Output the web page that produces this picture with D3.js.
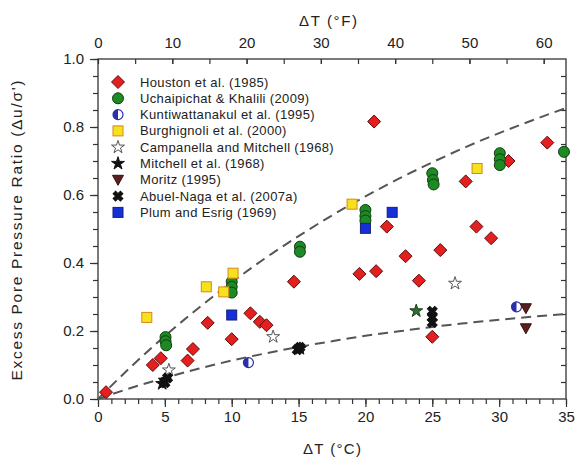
<!DOCTYPE html>
<html>
<head>
<meta charset="utf-8">
<script src="https://cdn.jsdelivr.net/npm/d3@7"></script>
<style>
  body { margin: 0; background: #fff; }
  svg { display: block; }
  text { font-family: "Liberation Sans", Arial, Helvetica, sans-serif; fill: #222; }
</style>
</head>
<body>
<svg id="chart" width="577" height="469"></svg>
<script>
// Measured temperature change (°C) and excess pore pressure ratio, per study
const houston = [
  [0.6, 0.02], [4.1, 0.10], [4.7, 0.12], [6.7, 0.113], [7.1, 0.147], [8.2, 0.224],
  [10.0, 0.176], [11.4, 0.252], [12.1, 0.227], [12.6, 0.217], [14.65, 0.345],
  [19.55, 0.368], [20.65, 0.816], [20.8, 0.376], [21.6, 0.507], [23.0, 0.42],
  [24.0, 0.348], [25.0, 0.183], [25.6, 0.438], [27.5, 0.64], [28.3, 0.507],
  [29.4, 0.473], [30.7, 0.70], [33.6, 0.754]
];
const uchaipichat = [
  [5.05, 0.182], [5.05, 0.17], [5.1, 0.158], [10.0, 0.345], [10.0, 0.33], [10.0, 0.313],
  [15.1, 0.448], [15.1, 0.433], [20.0, 0.556], [20.0, 0.538], [20.0, 0.525],
  [25.0, 0.664], [25.05, 0.644], [25.1, 0.631], [30.05, 0.723], [30.05, 0.705],
  [30.05, 0.688], [34.85, 0.727]
];
const kuntiwattanakul = [[11.25, 0.107], [31.3, 0.271]];
const burghignoli = [[3.65, 0.24], [8.1, 0.33], [9.4, 0.315], [10.1, 0.37], [19.0, 0.573], [28.35, 0.678]];
const campanella = [[5.3, 0.085], [13.1, 0.183], [26.7, 0.34]];
const campanellaDrained = [[23.8, 0.259]];
const mitchell = [[4.8, 0.045], [5.0, 0.055], [15.1, 0.148]];
const moritz = [[32.0, 0.267], [32.0, 0.208]];
const abuelNaga = [[5.0, 0.048], [5.2, 0.062], [14.9, 0.145], [15.1, 0.152], [25.0, 0.258], [25.0, 0.24], [25.0, 0.225]];
const plum = [[10.0, 0.247], [20.0, 0.502], [22.0, 0.549]];

// Upper and lower bounding trend curves
const upperBound = [
  [0, 0], [2.5, 0.096], [5, 0.185], [7.5, 0.267], [10, 0.343], [12.5, 0.414], [15, 0.479],
  [17.5, 0.540], [20, 0.596], [22.5, 0.648], [25, 0.696], [27.5, 0.741], [30, 0.782],
  [32.5, 0.820], [35, 0.856]
];
const lowerBound = [
  [0, 0], [2.5, 0.033], [5, 0.062], [7.5, 0.089], [10, 0.113], [12.5, 0.134], [15, 0.153],
  [17.5, 0.170], [20, 0.186], [22.5, 0.199], [25, 0.212], [27.5, 0.223], [30, 0.233],
  [32.5, 0.242], [35, 0.250]
];

// Axis ticks
const celsiusTicks = [0, 5, 10, 15, 20, 25, 30, 35];
const fahrenheitTicks = [0, 10, 20, 30, 40, 50, 60];
const ratioTicks = [0.0, 0.2, 0.4, 0.6, 0.8, 1.0];

const series = [
  { name: "Houston et al. (1985)", data: houston, shape: "diamond", fill: "#e3201f", stroke: "#5e0c0c" },
  { name: "Uchaipichat & Khalili (2009)", data: uchaipichat, shape: "circle", fill: "#1e8a24", stroke: "#0f3d12" },
  { name: "Kuntiwattanakul et al. (1995)", data: kuntiwattanakul, shape: "half", fill: "#2b2fa8", stroke: "#2b2fa8" },
  { name: "Burghignoli et al. (2000)", data: burghignoli, shape: "square", fill: "#f5e21c", stroke: "#d8861a" },
  { name: "Campanella and Mitchell (1968)", data: campanella, shape: "star", fill: "#ffffff", stroke: "#555555" },
  { name: null, data: campanellaDrained, shape: "star", fill: "#2e6e2e", stroke: "#1d3d1d" },
  { name: "Mitchell et al. (1968)", data: mitchell, shape: "star", fill: "#111111", stroke: "#111111" },
  { name: "Moritz (1995)", data: moritz, shape: "triangle", fill: "#5a1f1f", stroke: "#3a1010" },
  { name: "Abuel-Naga et al. (2007a)", data: abuelNaga, shape: "cross", fill: "#111111", stroke: "#111111" },
  { name: "Plum and Esrig (1969)", data: plum, shape: "square", fill: "#1530d8", stroke: "#13217a" }
];

const svg = d3.select("#chart");
const x = d3.scaleLinear().domain([0, 35]).range([98, 566]);
const xF = d3.scaleLinear().domain([0, 63]).range([98, 566]);
const y = d3.scaleLinear().domain([0, 1]).range([399, 59]);
const axisColor = "#333";

function styleAxis(g) {
  g.select(".domain").remove();
  g.selectAll(".tick line").attr("stroke", axisColor).attr("stroke-width", 1.2);
  g.selectAll(".tick text").attr("font-size", 15).attr("fill", "#222");
}

// Minor ticks
svg.append("g").attr("transform", `translate(0,${y(0)})`)
  .call(d3.axisBottom(x).tickValues(d3.range(0, 36, 1)).tickSize(5).tickFormat(""))
  .call(styleAxis);
svg.append("g").attr("transform", `translate(${x(0)},0)`)
  .call(d3.axisLeft(y).tickValues(d3.range(0, 1.001, 0.05)).tickSize(5).tickFormat(""))
  .call(styleAxis);
svg.append("g").attr("transform", `translate(${x(35)},0)`)
  .call(d3.axisRight(y).tickValues(d3.range(0.05, 1.0, 0.05)).tickSize(-5).tickFormat(""))
  .call(styleAxis);
svg.append("g").attr("transform", `translate(0,${y(1)})`)
  .call(d3.axisTop(xF).tickValues(d3.range(5, 63, 5)).tickSize(-5).tickFormat(""))
  .call(styleAxis);

// Major ticks and labels
svg.append("g").attr("transform", `translate(0,${y(0)})`)
  .call(d3.axisBottom(x).tickValues(celsiusTicks).tickSize(8).tickPadding(4).tickFormat(d3.format("d")))
  .call(styleAxis);
svg.append("g").attr("transform", `translate(${x(0)},0)`)
  .call(d3.axisLeft(y).tickValues(ratioTicks).tickSize(8).tickPadding(6).tickFormat(d3.format(".1f")))
  .call(styleAxis);
svg.append("g").attr("transform", `translate(0,${y(1)})`)
  .call(d3.axisTop(xF).tickValues(fahrenheitTicks).tickSize(-5).tickPadding(11).tickFormat(d3.format("d")))
  .call(styleAxis);

// Plot frame
svg.append("rect")
  .attr("x", x(0)).attr("y", y(1))
  .attr("width", x(35) - x(0)).attr("height", y(0) - y(1))
  .attr("fill", "none").attr("stroke", axisColor).attr("stroke-width", 1.3);

// Axis titles
svg.append("text").attr("x", (x(0) + x(35)) / 2).attr("y", 454)
  .attr("text-anchor", "middle").attr("font-size", 15)
  .attr("textLength", 58).attr("lengthAdjust", "spacing")
  .text("ΔT (°C)");
svg.append("text").attr("x", 328).attr("y", 26)
  .attr("text-anchor", "middle").attr("font-size", 15)
  .attr("textLength", 58).attr("lengthAdjust", "spacing")
  .text("ΔT (°F)");
svg.append("text")
  .attr("transform", `translate(22,${(78 + 383) / 2}) rotate(-90)`)
  .attr("text-anchor", "middle").attr("font-size", 15.5)
  .attr("textLength", 300).attr("lengthAdjust", "spacing")
  .text("Excess Pore Pressure Ratio (Δu/σ')");

// Trend curves
const line = d3.line().x(d => x(d[0])).y(d => y(d[1])).curve(d3.curveMonotoneX);
[upperBound, lowerBound].forEach(b => {
  svg.append("path").attr("d", line(b))
    .attr("fill", "none").attr("stroke", "#555").attr("stroke-width", 2)
    .attr("stroke-dasharray", "10,6");
});

// Marker drawing
function drawMarker(g, s, cx, cy) {
  const m = g.append("g").attr("transform", `translate(${cx},${cy})`);
  switch (s.shape) {
    case "diamond":
      m.append("path").attr("d", "M0,-6.5L6.5,0L0,6.5L-6.5,0Z");
      break;
    case "circle":
      m.append("circle").attr("r", 5.5);
      break;
    case "square":
      m.append("rect").attr("x", -5).attr("y", -5).attr("width", 10).attr("height", 10);
      break;
    case "star":
      m.append("path").attr("d", d3.symbol(d3.symbolStar, 52)());
      break;
    case "triangle":
      m.append("path").attr("d", "M-5.5,-4.5L5.5,-4.5L0,5.5Z");
      break;
    case "cross":
      m.append("path").attr("d", d3.symbol(d3.symbolCross, 60)()).attr("transform", "rotate(45)");
      break;
    case "half":
      m.append("circle").attr("r", 5).attr("fill", "#fff").attr("stroke", s.stroke).attr("stroke-width", 1.2);
      m.append("path").attr("d", "M0,-5A5,5 0 0,0 0,5Z").attr("fill", s.fill);
      return;
  }
  m.selectAll("*").attr("fill", s.fill).attr("stroke", s.stroke).attr("stroke-width", 1);
}

const marks = svg.append("g");
series.forEach(s => {
  s.data.forEach(d => drawMarker(marks, s, x(d[0]), y(d[1])));
});

// Legend
const legend = svg.append("g");
series.filter(s => s.name).forEach((s, i) => {
  const ly = 82 + i * 16.3;
  drawMarker(legend, s, 118, ly);
  legend.append("text").attr("x", 140).attr("y", ly)
    .attr("dominant-baseline", "central")
    .attr("font-size", 13).attr("letter-spacing", 0.35).attr("fill", "#333")
    .text(s.name);
});
</script>
</body>
</html>
